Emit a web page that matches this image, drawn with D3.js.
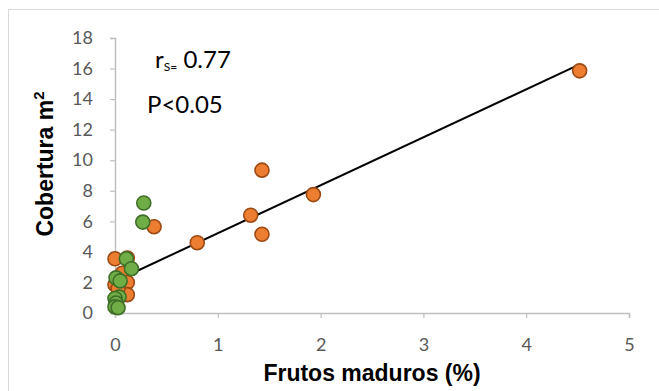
<!DOCTYPE html>
<html>
<head>
<meta charset="utf-8">
<script src="https://cdn.jsdelivr.net/npm/d3@7"></script>
<style>
  html, body { margin: 0; padding: 0; background: #fff; }
  svg { display: block; }
</style>
</head>
<body>
<svg id="chart" width="659" height="391"></svg>
<script>
// Percentage of ripe fruit vs. cover (m²), two groups
const orangeX = [4.52, 1.93, 1.43, 1.32, 1.43, 0.80, 0.38, 0.12, 0.00, 0.07, 0.00, 0.12, 0.12, 0.03];
const orangeY = [15.85, 7.75, 9.35, 6.40, 5.15, 4.60, 5.65, 3.60, 3.55, 2.60, 1.85, 2.00, 1.20, 1.60];
const greenX = [0.28, 0.27, 0.11, 0.16, 0.01, 0.05, 0.04, 0.00, 0.01, 0.00, 0.03];
const greenY = [7.20, 5.95, 3.55, 2.90, 2.30, 2.10, 1.05, 0.95, 0.65, 0.40, 0.35];
const xTicks = [0, 1, 2, 3, 4, 5];
const yTicks = [0, 2, 4, 6, 8, 10, 12, 14, 16, 18];
// Linear trend line over the data range
const trendIntercept = 2.08;
const trendSlope = 3.14;
const trendFrom = 0;
const trendTo = 4.52;

const svg = d3.select("#chart");
const margin = { left: 115, right: 30, top: 38, bottom: 78 };
const W = 659, H = 391;

// chart frame
svg.append("rect")
  .attr("x", 8.5).attr("y", 9.5)
  .attr("width", 660).attr("height", 400)
  .attr("fill", "#fff")
  .attr("stroke", "#d9d9d9").attr("stroke-width", 1);

const x = d3.scaleLinear().domain([0, 5]).range([margin.left, W - margin.right]);
const y = d3.scaleLinear().domain([0, 18]).range([H - margin.bottom, margin.top]);

const axisColor = "#bfbfbf";
const labelColor = "#595959";
const tickFont = "Lato, 'Open Sans', sans-serif";

// x axis
const gx = svg.append("g")
  .attr("transform", `translate(0,${y(0)})`)
  .call(d3.axisBottom(x).tickValues(xTicks).tickSize(5).tickPadding(20).tickFormat(d3.format("d")));
// y axis
const gy = svg.append("g")
  .attr("transform", `translate(${x(0)},0)`)
  .call(d3.axisLeft(y).tickValues(yTicks).tickSize(5).tickPadding(17).tickFormat(d3.format("d")));

[gx, gy].forEach(g => {
  g.select(".domain").attr("stroke", axisColor).attr("stroke-width", 1.5);
  g.selectAll(".tick line").attr("stroke", axisColor).attr("stroke-width", 1.2);
  g.selectAll(".tick text")
    .attr("fill", labelColor)
    .style("font-family", tickFont)
    .style("font-size", "18px");
});

// trend line
svg.append("line")
  .attr("x1", x(trendFrom)).attr("y1", y(trendIntercept + trendSlope * trendFrom))
  .attr("x2", x(trendTo)).attr("y2", y(trendIntercept + trendSlope * trendTo))
  .attr("stroke", "#000").attr("stroke-width", 2);

// points
function drawSeries(xs, ys, fill, stroke) {
  svg.append("g").selectAll("circle")
    .data(xs.map((v, i) => [v, ys[i]]))
    .join("circle")
    .attr("cx", d => x(d[0]))
    .attr("cy", d => y(d[1]))
    .attr("r", 7)
    .attr("fill", fill)
    .attr("stroke", stroke)
    .attr("stroke-width", 1.6);
}
drawSeries(orangeX, orangeY, "#ED7D31", "#9C4A14");
drawSeries(greenX, greenY, "#70AD47", "#3F6F27");

// annotation: Spearman coefficient and significance
const ann = svg.append("text")
  .attr("x", 155).attr("y", 68)
  .style("font-family", tickFont)
  .style("font-size", "24px")
  .attr("fill", "#000");
ann.append("tspan").text("r");
ann.append("tspan").attr("dy", 3).style("font-size", "12px").text("S=");
ann.append("tspan").attr("dy", -3).text(" 0.77");

svg.append("text")
  .attr("x", 147).attr("y", 113)
  .style("font-family", tickFont)
  .style("font-size", "24px")
  .attr("fill", "#000")
  .text("P<0.05");

// axis titles
svg.append("text")
  .attr("x", (x(0) + x(5)) / 2).attr("y", 381)
  .attr("text-anchor", "middle")
  .style("font-family", "'Liberation Sans', Arial, sans-serif")
  .style("font-weight", "bold")
  .style("font-size", "23px")
  .attr("fill", "#000")
  .text("Frutos maduros (%)");

const yt = svg.append("text")
  .attr("transform", "translate(53,164) rotate(-90)")
  .attr("text-anchor", "middle")
  .style("font-family", "'Liberation Sans', Arial, sans-serif")
  .style("font-weight", "bold")
  .style("font-size", "23px")
  .attr("fill", "#000");
yt.append("tspan").text("Cobertura m");
yt.append("tspan").attr("dy", -9).style("font-size", "15px").text("2");
</script>
</body>
</html>
